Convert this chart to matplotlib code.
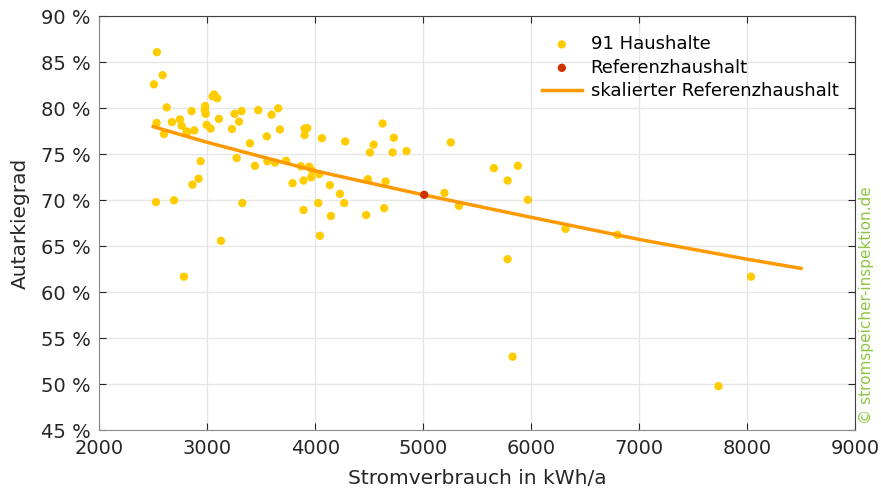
import matplotlib
matplotlib.use("Agg")
import matplotlib.pyplot as plt
from matplotlib.ticker import FuncFormatter, MultipleLocator

# Haushalte: Stromverbrauch (kWh/a) und Autarkiegrad (%)
verbrauch = [
    2534, 2587, 2506, 2624, 2531, 2599, 2673, 2747, 2763, 2809,
    2815, 2880, 2855, 2981, 2978, 2985, 2994, 3031, 3050, 3064,
    3093, 3108, 3229, 3253, 3294, 3318, 3472, 3596, 3657, 3673,
    3552, 3395, 3902, 3926, 3902, 4062, 4278, 2939, 2920, 2863,
    2525, 2692, 3272, 3442, 3557, 3628, 3730, 3868, 3945, 3963,
    3975, 4037, 3790, 3892, 4136, 4229, 4269, 4028, 3892, 4145,
    3325, 3127, 2784, 4044, 4624, 4728, 4541, 4507, 4717, 4846,
    5256, 5655, 5877, 5782, 5969, 5197, 5331, 4488, 4652, 4472,
    4639, 5782, 6318, 6800, 5828, 7735, 8037,
]
autarkie = [
    86.1, 83.6, 82.6, 80.1, 78.4, 77.2, 78.5, 78.8, 78.1, 77.5,
    77.4, 77.6, 79.7, 80.25, 79.8, 79.4, 78.2, 77.8, 81.3, 81.5,
    81.1, 78.85, 77.75, 79.4, 78.55, 79.7, 79.8, 79.3, 80.0, 77.7,
    76.95, 76.2, 77.8, 77.85, 77.1, 76.75, 76.4, 74.25, 72.35, 71.7,
    69.8, 70.0, 74.6, 73.75, 74.25, 74.1, 74.3, 73.7, 73.65, 72.5,
    73.2, 72.85, 71.85, 72.15, 71.65, 70.7, 69.7, 69.7, 68.95, 68.3,
    69.7, 65.6, 61.7, 66.15, 78.35, 76.8, 76.05, 75.2, 75.2, 75.35,
    76.3, 73.5, 73.75, 72.15, 70.05, 70.8, 69.4, 72.3, 72.05, 68.4,
    69.15, 63.6, 66.9, 66.25, 53.0, 49.8, 61.7,
]

# Referenzhaushalt
ref_x = [5009]
ref_y = [70.6]

kurve_x = [2500, 3000, 4000, 5000, 6000, 7000, 8000, 8500]
kurve_y = [78.0, 76.3, 73.2, 70.6, 68.15, 65.75, 63.6, 62.6]

GELB = "#FFCC00"
ROT = "#CC3300"
ORANGE = "#FF9900"
GRUEN = "#8DC63F"

plt.rcParams["font.family"] = "DejaVu Sans"
fig = plt.figure(figsize=(8.81, 4.88), dpi=100)
ax = fig.add_axes([0.1127, 0.1182, 0.8578, 0.8484])

ax.scatter(verbrauch, autarkie, s=36, color=GELB, edgecolors="none", zorder=3,
           label="91 Haushalte")
ax.scatter(ref_x, ref_y, s=36, color=ROT, edgecolors="none", zorder=5,
           label="Referenzhaushalt")
ax.plot(kurve_x, kurve_y, color=ORANGE, lw=2.5, zorder=4,
        label="skalierter Referenzhaushalt")

ax.set_xlim(2000, 9000)
ax.set_ylim(45, 90)
ax.xaxis.set_major_locator(MultipleLocator(1000))
ax.yaxis.set_major_locator(MultipleLocator(5))
ax.yaxis.set_major_formatter(FuncFormatter(lambda v, p: f"{v:.0f} %"))
ax.grid(color="#e6e6e6", lw=1)
ax.set_axisbelow(True)
ax.tick_params(direction="in", length=5, top=True, right=True,
               labelsize=14, colors="#262626", pad=6)
for s in ("left", "bottom"):
    ax.spines[s].set_color("#8c8c8c")
for s in ("top", "right"):
    ax.spines[s].set_color("#404040")

ax.set_xlabel("Stromverbrauch in kWh/a", fontsize=14.5, color="#262626", labelpad=8)
ax.set_ylabel("Autarkiegrad", fontsize=14.5, color="#262626", labelpad=8)

ax.legend(loc="upper right", bbox_to_anchor=(0.995, 0.985), frameon=False,
          fontsize=13, handlelength=2.2, handletextpad=0.5,
          labelspacing=0.3, borderaxespad=0.3)

fig.text(0.983, 0.375, "© stromspeicher-inspektion.de", rotation=90,
         color=GRUEN, fontsize=11, ha="center", va="center")

fig.savefig("out.png", dpi=100)
